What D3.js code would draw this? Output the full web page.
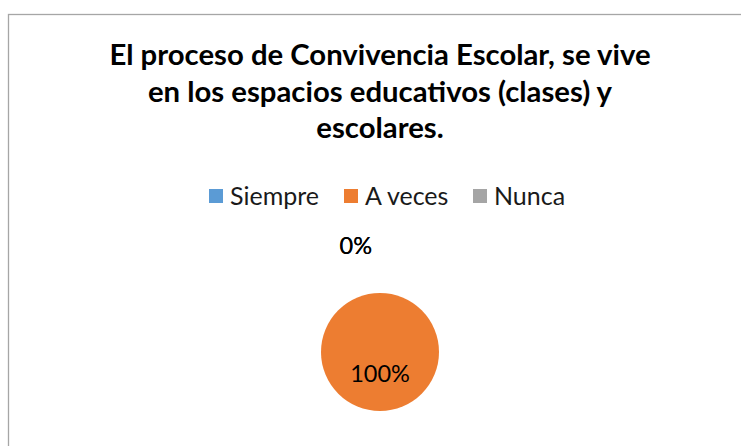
<!DOCTYPE html>
<html>
<head>
<meta charset="utf-8">
<script src="https://cdn.jsdelivr.net/npm/d3@7"></script>
<style>
  body { margin: 0; background: #fff; }
  svg { display: block; }
  text { font-family: Lato, "Open Sans", sans-serif; }
</style>
</head>
<body>
<div id="chart"></div>
<script>
// data
var categories = ["Siempre", "A veces", "Nunca"];
var values = [0, 100, 0];
var colors = ["#5B9BD5", "#ED7D31", "#A5A5A5"];
var titleLines = [
	"El proceso de Convivencia Escolar, se vive",
	"en los espacios educativos (clases) y",
	"escolares."
];

var width = 741, height = 446
	, cx = 380, cy = 352, radius = 59;

var svg = d3.select("#chart").append("svg")
	.attr("width", width)
	.attr("height", height);

// chart area border (right and bottom edges fall outside the picture)
svg.append("rect")
	.attr("x", 8.5).attr("y", 14.5)
	.attr("width", width + 20).attr("height", height + 20)
	.attr("fill", "#fff")
	.attr("stroke", "#a6a6a6")
	.attr("stroke-width", 1.3);

// --- title --- \\
svg.append("g").selectAll("text")
	.data(titleLines)
	.join("text")
	.attr("x", cx)
	.attr("y", function (d, i) { return 65 + i * 36.7; })
	.attr("text-anchor", "middle")
	.attr("font-weight", "bold")
	.attr("font-size", "29.3px")
	.attr("fill", "#000")
	.text(function (d) { return d; });

// --- legend --- \\
var legendX = [209, 344, 473];
var legend = svg.append("g").selectAll("g")
	.data(categories)
	.join("g")
	.attr("transform", function (d, i) { return "translate(" + legendX[i] + ",189)"; });

legend.append("rect")
	.attr("width", 14).attr("height", 14)
	.attr("fill", function (d, i) { return colors[i]; });

legend.append("text")
	.attr("x", 21).attr("y", 16)
	.attr("font-size", "25px")
	.attr("fill", "#1a1a1a")
	.text(function (d) { return d; });

// --- pie --- \\
var pie = d3.pie().sort(null).value(function (d) { return d; });
var arcs = pie(values);
var arc = d3.arc().innerRadius(0).outerRadius(radius);
var outerArc = d3.arc().innerRadius(98).outerRadius(98);
var total = d3.sum(values);

var g = svg.append("g").attr("transform", "translate(" + cx + "," + cy + ")");

g.selectAll("path")
	.data(arcs)
	.join("path")
	.attr("d", arc)
	.attr("fill", function (d, i) { return colors[i]; });

// labels: inside for real slices, outside above for empty ones.
// empty slices all sit at the same angle, so their labels coincide: draw one
var seen = {};
var labelData = arcs.filter(function (d) {
	var key = d.value > 0 ? "v" + d.index : "a" + d.startAngle;
	if (seen[key]) return false;
	seen[key] = true;
	return true;
});

g.selectAll("text")
	.data(labelData)
	.join("text")
	.attr("transform", function (d) {
		var p = d.value > 0 ? arc.centroid(d) : outerArc.centroid(d);
		return "translate(" + p + ")";
	})
	.attr("text-anchor", function (d) { return d.value > 0 ? "middle" : "end"; })
	.attr("dx", function (d) { return d.value > 0 ? 0 : -8; })
	.attr("font-size", "23.5px")
	.attr("fill", "#000")
	.text(function (d) { return Math.round(d.value / total * 100) + "%"; });
</script>
</body>
</html>
